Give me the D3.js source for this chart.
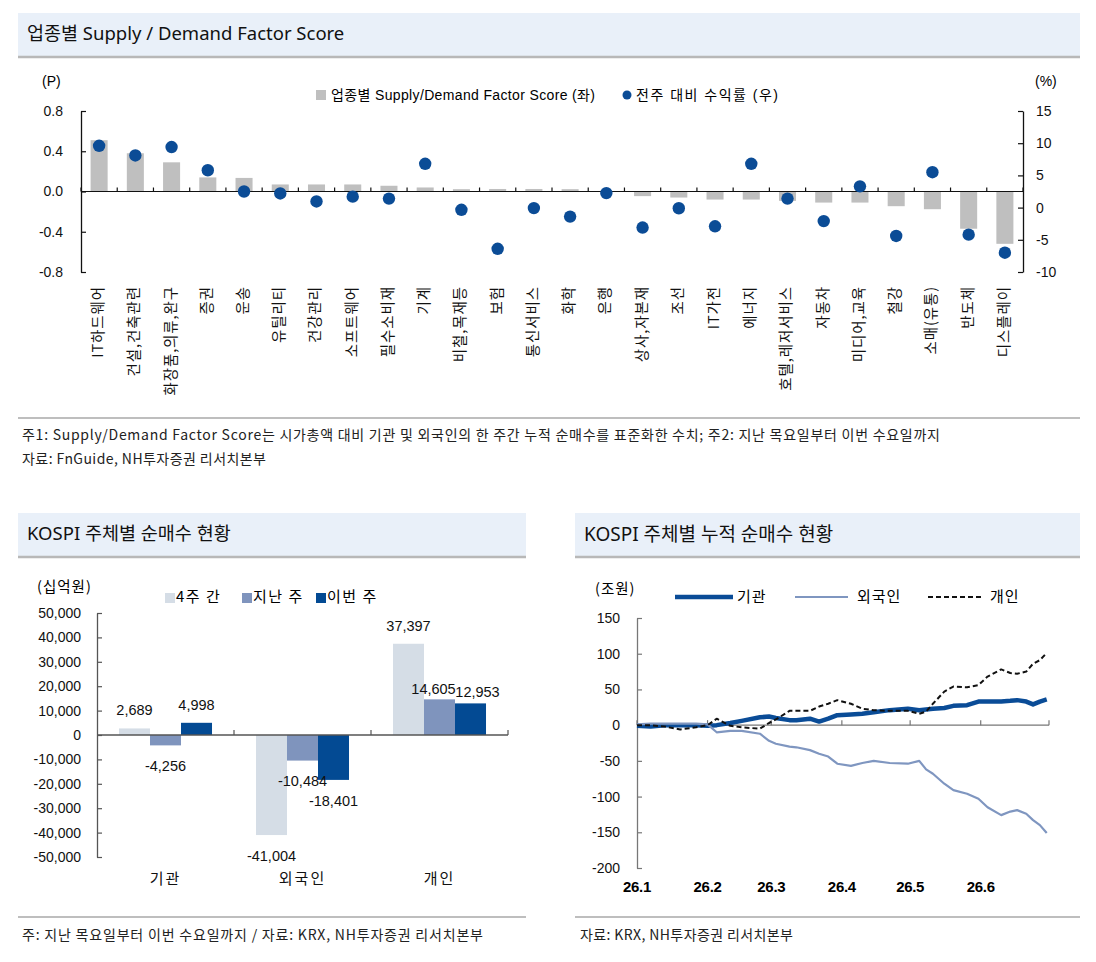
<!DOCTYPE html>
<html><head><meta charset="utf-8">
<script src="https://cdn.jsdelivr.net/npm/d3@7"></script>
<style>body{margin:0;background:#fff} svg{display:block}</style>
</head><body>
<svg id="c" width="1096" height="962"></svg>
<script>
// ---------------- DATA ----------------
const sectors = ["IT하드웨어","건설,건축관련","화장품,의류,완구","증권","운송","유틸리티","건강관리","소프트웨어","필수소비재","기계","비철,목재등","보험","통신서비스","화학","은행","상사,자본재","조선","IT가전","에너지","호텔,레저서비스","자동차","미디어,교육","철강","소매(유통)","반도체","디스플레이"];
const sdScore = [0.51,0.38,0.29,0.14,0.135,0.07,0.07,0.07,0.057,0.04,0.023,0.025,0.025,0.023,0.005,-0.046,-0.06,-0.08,-0.08,-0.093,-0.11,-0.11,-0.146,-0.176,-0.37,-0.52];
const weeklyReturn = [9.6,8.1,9.4,5.8,2.5,2.2,0.95,1.7,1.4,6.8,-0.34,-6.4,-0.08,-1.4,2.25,-3.1,-0.1,-2.9,6.8,1.4,-2.1,3.3,-4.4,5.5,-4.2,-7.0];
const scoreTicks = [0.8,0.4,0,-0.4,-0.8];
const returnTicks = [15,10,5,0,-5,-10];

const investors = ["기관","외국인","개인"];
const periods = ["4주 간","지난 주","이번 주"];
const net4w = [2689,-41004,37397];
const netLastWeek = [-4256,-10484,14605];
const netThisWeek = [4998,-18401,12953];
const netTicks = [50000,40000,30000,20000,10000,0,-10000,-20000,-30000,-40000,-50000];

const cumDates = ["2026-01-01","2026-01-07","2026-01-13","2026-01-20","2026-01-27","2026-02-01","2026-02-05","2026-02-11","2026-02-16","2026-02-24","2026-02-28","2026-03-03","2026-03-09","2026-03-12","2026-03-18","2026-03-22","2026-03-26","2026-03-30","2026-04-05","2026-04-10","2026-04-15","2026-04-22","2026-04-30","2026-05-05","2026-05-08","2026-05-11","2026-05-16","2026-05-20","2026-05-26","2026-05-31","2026-06-04","2026-06-10","2026-06-14","2026-06-17","2026-06-21","2026-06-24","2026-06-27","2026-06-30"];
const cumInst    = [-1,-2,0,0,0,-1,0,3,6,11,12,10,7,7,9,5,9,14,15,16,18,21,23,21,22,23,24,27,28,33,33,33,34,35,33,29,33,36];
const cumForeign = [1,2,2,2,2,1,-10,-8,-8,-12,-22,-26,-30,-31,-35,-40,-44,-54,-57,-53,-50,-53,-54,-50,-62,-68,-82,-91,-96,-103,-115,-126,-121,-119,-124,-133,-140,-151];
const cumRetail  = [0,0,-2,-6,-3,0,9,-1,-3,-5,3,8,20,20,20,26,30,35,30,23,21,20,20,16,19,30,47,54,53,56,68,78,73,72,75,86,91,101];
const cumTicks = [150,100,50,0,-50,-100,-150,-200];
const monthLabels = ["26.1","26.2","26.3","26.4","26.5","26.6"];

// ---------------- HELPERS ----------------
const svg = d3.select("#c");
const F_NUM = "'Liberation Sans', Arial, 'Noto Sans CJK KR', sans-serif";
const F_KR = "'Noto Sans CJK KR', 'Liberation Sans', sans-serif";
const F_TITLE = "'Noto Sans', 'Noto Sans CJK KR', sans-serif";
const comma = d3.format(",");
const fmtInt = v => (v < 0 ? "-" : "") + comma(Math.abs(v));
const fmt1 = v => (v < 0 ? "-" : "") + Math.abs(v).toFixed(1);

function header(x, y, w, h, title, size) {
  svg.append("rect").attr("x", x).attr("y", y).attr("width", w).attr("height", h).attr("fill", "#E9F0F9");
  svg.append("line").attr("x1", x).attr("x2", x + w).attr("y1", y + h + 1).attr("y2", y + h + 1)
    .attr("stroke", "#B8B8B8").attr("stroke-width", 2.5);
  svg.append("text").attr("x", x + 9).attr("y", y + h / 2 + 1).attr("dominant-baseline", "middle")
    .style("font-family", F_TITLE).style("font-size", size).attr("fill", "#111").text(title);
}
function divider(x1, x2, y) {
  svg.append("line").attr("x1", x1).attr("x2", x2).attr("y1", y).attr("y2", y)
    .attr("stroke", "#BEBEBE").attr("stroke-width", 2);
}
function note(x, y, t, len) {
  svg.append("text").attr("x", x).attr("y", y).attr("dominant-baseline", "middle")
    .attr("textLength", len).attr("lengthAdjust", "spacing")
    .style("font-family", F_KR).style("font-size", "14px").attr("fill", "#222").text(t);
}
function styleAxis(g, color, size) {
  g.select(".domain").attr("stroke", color).attr("stroke-width", 1.3);
  g.selectAll(".tick line").attr("stroke", color).attr("stroke-width", 1.2);
  g.selectAll(".tick text").style("font-family", F_NUM).style("font-size", size).attr("fill", "#111");
}

// ---------------- TOP CHART ----------------
header(18, 13, 1062, 43, "업종별  Supply / Demand Factor Score", "18.5px");

const xS = d3.scaleBand().domain(sectors).range([81, 1023]).paddingInner(0.53).paddingOuter(0.265);
const yL = d3.scaleLinear().domain([-0.8, 0.8]).range([272, 111]);
const yR = d3.scaleLinear().domain([-10, 15]).range([272, 111]);

svg.append("g").selectAll("rect").data(sectors).join("rect")
  .attr("x", d => xS(d)).attr("width", xS.bandwidth())
  .attr("y", (d, i) => Math.min(yL(sdScore[i]), yL(0)))
  .attr("height", (d, i) => Math.abs(yL(sdScore[i]) - yL(0)))
  .attr("fill", "#BFBFBF");

svg.append("line").attr("x1", 81).attr("x2", 1023).attr("y1", yL(0)).attr("y2", yL(0)).attr("stroke", "#111").attr("stroke-width", 1.2);
svg.append("g").selectAll("line").data(d3.range(sectors.length + 1)).join("line")
  .attr("x1", i => 81 + i * xS.step()).attr("x2", i => 81 + i * xS.step())
  .attr("y1", yL(0) - 4).attr("y2", yL(0)).attr("stroke", "#111").attr("stroke-width", 1.2);

svg.append("g").selectAll("circle").data(sectors).join("circle")
  .attr("cx", d => xS(d) + xS.bandwidth() / 2)
  .attr("cy", (d, i) => yR(weeklyReturn[i]))
  .attr("r", 6.2).attr("fill", "#0B4C96");

const gL = svg.append("g").attr("transform", "translate(81,0)")
  .call(d3.axisLeft(yL).tickValues(scoreTicks).tickSizeInner(-5).tickSizeOuter(0).tickPadding(18).tickFormat(fmt1));
styleAxis(gL, "#111", "14px");
const gR = svg.append("g").attr("transform", "translate(1023,0)")
  .call(d3.axisRight(yR).tickValues(returnTicks).tickSizeInner(-5).tickSizeOuter(0).tickPadding(13).tickFormat(fmtInt));
styleAxis(gR, "#111", "14px");

svg.append("g").selectAll("text").data(sectors).join("text")
  .attr("transform", d => `translate(${xS(d) + xS.bandwidth() / 2},286) rotate(-90)`)
  .attr("text-anchor", "end").attr("dominant-baseline", "middle")
  .style("font-family", F_KR).style("font-size", "14.5px").style("letter-spacing", "0.9px").attr("fill", "#111")
  .text(d => d);

svg.append("text").attr("x", 42).attr("y", 82).attr("dominant-baseline", "middle")
  .style("font-family", F_NUM).style("font-size", "14px").text("(P)");
svg.append("text").attr("x", 1035).attr("y", 82).attr("dominant-baseline", "middle")
  .style("font-family", F_NUM).style("font-size", "14px").text("(%)");

// legend
svg.append("rect").attr("x", 316).attr("y", 90).attr("width", 10).attr("height", 10).attr("fill", "#BFBFBF");
svg.append("text").attr("x", 331).attr("y", 96).attr("dominant-baseline", "middle")
  .attr("textLength", 264).attr("lengthAdjust", "spacing")
  .style("font-family", F_NUM).style("font-size", "14px").text("업종별 Supply/Demand Factor Score (좌)");
svg.append("circle").attr("cx", 627).attr("cy", 95).attr("r", 4.5).attr("fill", "#0B4C96");
svg.append("text").attr("x", 636).attr("y", 96).attr("dominant-baseline", "middle")
  .attr("textLength", 142).attr("lengthAdjust", "spacing")
  .style("font-family", F_NUM).style("font-size", "14px").text("전주 대비 수익률 (우)");

divider(18, 1080, 418);
note(22, 436, "주1: Supply/Demand Factor Score는 시가총액 대비 기관 및 외국인의 한 주간 누적 순매수를 표준화한 수치; 주2: 지난 목요일부터 이번 수요일까지", 918);
note(22, 460, "자료: FnGuide, NH투자증권 리서치본부", 244);

// ---------------- BOTTOM LEFT ----------------
header(18, 513, 508, 43, "KOSPI 주체별 순매수 현황", "18.5px");
const yN = d3.scaleLinear().domain([-50000, 50000]).range([857, 613]);
const xG = d3.scaleBand().domain(investors).range([97, 508]).paddingInner(0.321).paddingOuter(0.1605);
const xP = d3.scaleBand().domain(periods).range([0, xG.bandwidth()]);
const pColors = ["#D5DDE6", "#7F94BD", "#034A93"];
const netSeries = [net4w, netLastWeek, netThisWeek];

periods.forEach((p, si) => {
  svg.append("g").selectAll("rect").data(investors).join("rect")
    .attr("x", d => xG(d) + xP(p)).attr("width", xP.bandwidth())
    .attr("y", (d, i) => Math.min(yN(netSeries[si][i]), yN(0)))
    .attr("height", (d, i) => Math.abs(yN(netSeries[si][i]) - yN(0)))
    .attr("fill", pColors[si]);
});
svg.append("line").attr("x1", 97).attr("x2", 508).attr("y1", yN(0)).attr("y2", yN(0)).attr("stroke", "#555").attr("stroke-width", 1.3);
svg.append("g").selectAll("line").data(investors).join("line")
  .attr("x1", d => xG(d) + xG.bandwidth() + xG.step() * xG.paddingInner() / 2)
  .attr("x2", d => xG(d) + xG.bandwidth() + xG.step() * xG.paddingInner() / 2)
  .attr("y1", yN(0) - 5).attr("y2", yN(0)).attr("stroke", "#555").attr("stroke-width", 1.2);
const gN = svg.append("g").attr("transform", "translate(97,0)")
  .call(d3.axisLeft(yN).tickValues(netTicks).tickSizeInner(-5).tickSizeOuter(0).tickPadding(16).tickFormat(fmtInt));
styleAxis(gN, "#555", "14px");

// value labels (the two crowded 개인 labels sit lower and pushed apart)
const nudge = {"개인-1": [-6, 8], "개인-2": [7, 7]};
periods.forEach((p, si) => {
  svg.append("g").selectAll("text").data(investors).join("text")
    .attr("x", d => xG(d) + xP(p) + xP.bandwidth() / 2 + ((nudge[d + "-" + si] || [0, 0])[0]))
    .attr("y", (d, i) => {
      const v = netSeries[si][i];
      const base = v >= 0 ? yN(v) - 17 : yN(v) + 22;
      return base + ((nudge[d + "-" + si] || [0, 0])[1]);
    })
    .attr("text-anchor", "middle").attr("dominant-baseline", "middle")
    .style("font-family", F_NUM).style("font-size", "14.5px").attr("fill", "#111")
    .text((d, i) => fmtInt(netSeries[si][i]));
});
svg.append("g").selectAll("text").data(investors).join("text")
  .attr("x", d => xG(d) + xG.bandwidth() / 2).attr("y", 880)
  .attr("text-anchor", "middle").attr("dominant-baseline", "middle")
  .style("font-family", F_KR).style("font-size", "15px").style("letter-spacing", "2px").attr("fill", "#111")
  .text(d => d);
svg.append("text").attr("x", 37).attr("y", 588).attr("dominant-baseline", "middle")
  .style("font-family", F_KR).style("font-size", "14.5px").style("letter-spacing", "1px").text("(십억원)");
const legX = [165, 242, 316];
periods.forEach((p, i) => {
  svg.append("rect").attr("x", legX[i]).attr("y", 593).attr("width", 10).attr("height", 10).attr("fill", pColors[i]);
  svg.append("text").attr("x", legX[i] + 11).attr("y", 598).attr("dominant-baseline", "middle")
    .style("font-family", F_KR).style("font-size", "15px").style("letter-spacing", "1.5px").text(p);
});
divider(18, 526, 917);
note(22, 936, "주: 지난 목요일부터 이번 수요일까지 / 자료: KRX, NH투자증권 리서치본부", 461);

// ---------------- BOTTOM RIGHT ----------------
header(575, 513, 505, 43, "KOSPI 주체별 누적 순매수 현황", "19px");
const parse = d3.timeParse("%Y-%m-%d");
const dates = cumDates.map(parse);
const t0 = parse("2026-01-01"), t1 = parse("2026-07-01");
const xT = d3.scaleTime().domain([t0, t1]).range([637, 1049]);
const yC = d3.scaleLinear().domain([-200, 150]).range([868, 618]);

svg.append("line").attr("x1", 637).attr("x2", 1049).attr("y1", yC(0)).attr("y2", yC(0)).attr("stroke", "#777").attr("stroke-width", 1.3);
const months = d3.timeMonth.range(t0, d3.timeDay.offset(t1, 1));
svg.append("g").selectAll("line").data(months).join("line")
  .attr("x1", d => xT(d)).attr("x2", d => xT(d))
  .attr("y1", yC(0) - 5).attr("y2", yC(0)).attr("stroke", "#777").attr("stroke-width", 1.2);
svg.append("g").selectAll("text").data(months.slice(0, monthLabels.length)).join("text")
  .attr("x", d => xT(d)).attr("y", 888).attr("text-anchor", "middle").attr("dominant-baseline", "middle")
  .style("font-family", F_NUM).style("font-size", "15px").style("font-weight", "bold").style("letter-spacing", "-0.3px")
  .text((d, i) => monthLabels[i]);
const gC = svg.append("g").attr("transform", "translate(637,0)")
  .call(d3.axisLeft(yC).tickValues(cumTicks).tickSizeInner(-5).tickSizeOuter(0).tickPadding(17).tickFormat(fmtInt));
styleAxis(gC, "#777", "14px");

const lineGen = vals => d3.line().x((d, i) => xT(dates[i])).y(d => yC(d))(vals);
const lineStyles = [
  {name: "기관", vals: cumInst, color: "#0A4C97", w: 4.5, dash: null},
  {name: "외국인", vals: cumForeign, color: "#7F96C0", w: 2.2, dash: null},
  {name: "개인", vals: cumRetail, color: "#111", w: 2, dash: "5,3"}
];
lineStyles.forEach(s => {
  svg.append("path").attr("d", lineGen(s.vals)).attr("fill", "none")
    .attr("stroke", s.color).attr("stroke-width", s.w).attr("stroke-dasharray", s.dash)
    .attr("stroke-linejoin", "round");
});
svg.append("text").attr("x", 595).attr("y", 590).attr("dominant-baseline", "middle")
  .style("font-family", F_KR).style("font-size", "14.5px").style("letter-spacing", "1px").text("(조원)");
const lg = [{x1: 675, x2: 733, tx: 737}, {x1: 795, x2: 848, tx: 857}, {x1: 928, x2: 983, tx: 990}];
lineStyles.forEach((s, i) => {
  svg.append("line").attr("x1", lg[i].x1).attr("x2", lg[i].x2).attr("y1", 597).attr("y2", 597)
    .attr("stroke", s.color).attr("stroke-width", s.w).attr("stroke-dasharray", s.dash);
  svg.append("text").attr("x", lg[i].tx).attr("y", 598).attr("dominant-baseline", "middle")
    .style("font-family", F_KR).style("font-size", "15px").style("letter-spacing", "1px").text(s.name);
});
divider(575, 1080, 917);
note(580, 936, "자료: KRX, NH투자증권 리서치본부", 213);
</script>
</body></html>
